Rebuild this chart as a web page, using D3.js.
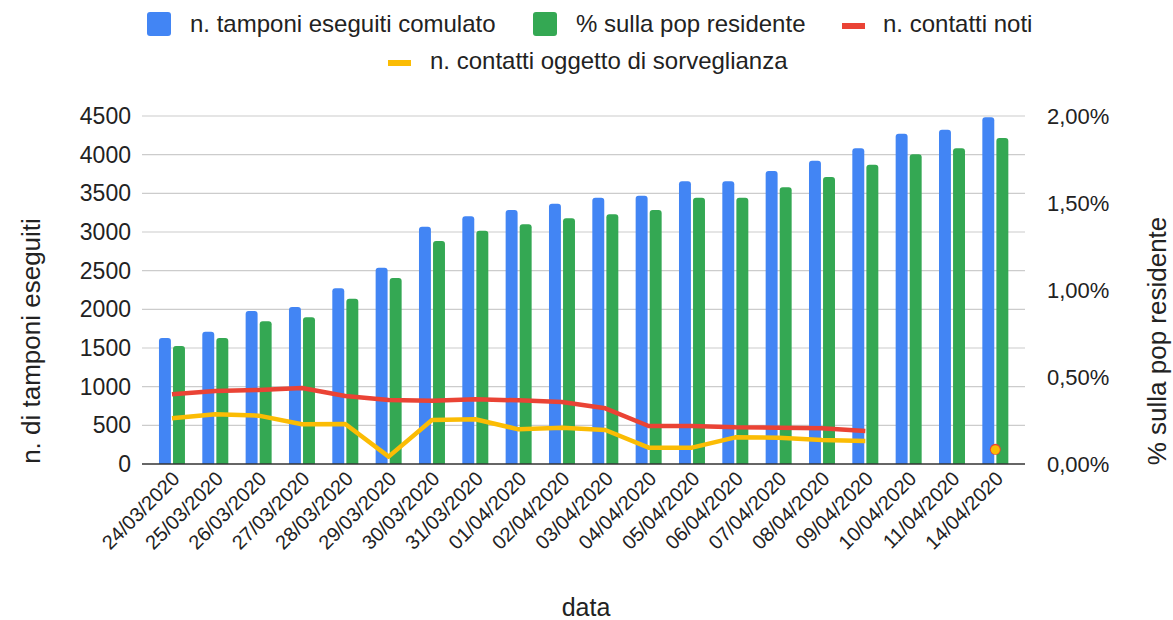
<!DOCTYPE html>
<html><head><meta charset="utf-8">
<script src="https://cdn.jsdelivr.net/npm/d3@7"></script>
<style>
body{margin:0;background:#fff;}
svg{display:block;font-family:"Liberation Sans",Arial,sans-serif;}
</style></head>
<body><svg id="c" width="1173" height="620"></svg>
<script>
const dates = ["24/03/2020","25/03/2020","26/03/2020","27/03/2020","28/03/2020","29/03/2020","30/03/2020","31/03/2020","01/04/2020","02/04/2020","03/04/2020","04/04/2020","05/04/2020","06/04/2020","07/04/2020","08/04/2020","09/04/2020","10/04/2020","11/04/2020","14/04/2020"];
const tamponi = [1629,1711,1978,2030,2272,2539,3069,3203,3285,3366,3444,3470,3656,3656,3789,3922,4082,4272,4323,4483];
const pctPop = [0.678,0.724,0.820,0.843,0.950,1.069,1.282,1.341,1.378,1.412,1.435,1.460,1.530,1.530,1.590,1.649,1.720,1.780,1.814,1.874];
const contattiNoti = [901,944,957,983,879,828,819,836,823,802,720,491,491,474,470,461,427,null,null,190];
const contattiSorv = [591,642,625,513,517,95,569,578,448,470,440,211,211,345,340,310,297,null,null,190];
const leftTicks = [0,500,1000,1500,2000,2500,3000,3500,4000,4500];
const rightTicks = [0,0.5,1,1.5,2];
const seriesNames = ["n. tamponi eseguiti comulato","% sulla pop residente","n. contatti noti","n. contatti oggetto di sorveglianza"];
const colors = ["#4285F4","#34A853","#EA4335","#FBBC04"];

const svg = d3.select("#c");
const L = 142, R = 1025, T = 116, B = 464;
const x = d3.scaleBand().domain(dates).range([150.3, 1017]);
const sub = d3.scaleBand().domain(["a","b"]).range([-13,13]).paddingInner(0.15);
const yL = d3.scaleLinear().domain([0,4500]).range([B,T]);
const yR = d3.scaleLinear().domain([0,2]).range([B,T]);
const cx = d => x(d) + x.bandwidth()/2;

// gridlines
svg.append("g").selectAll("line").data(leftTicks.slice(1)).join("line")
  .attr("x1",L).attr("x2",R).attr("y1",d=>yL(d)).attr("y2",d=>yL(d))
  .attr("stroke","#cccccc").attr("stroke-width",1.2);

// left axis labels
const axL = svg.append("g").attr("transform",`translate(${L},0)`)
  .call(d3.axisLeft(yL).tickValues(leftTicks).tickSize(0).tickPadding(11).tickFormat(d3.format("d")));
axL.select(".domain").remove();
axL.selectAll("text").attr("font-size",23).attr("fill","#222").attr("font-family","Liberation Sans, Arial");
// right axis labels
const fmtPct = d => d3.format(".2f")(d).replace(".",",") + "%";
const axR = svg.append("g").attr("transform",`translate(${R},0)`)
  .call(d3.axisRight(yR).tickValues(rightTicks).tickSize(0).tickPadding(22).tickFormat(fmtPct));
axR.select(".domain").remove();
axR.selectAll("text").attr("font-size",22).attr("fill","#222").attr("font-family","Liberation Sans, Arial");

function topRounded(x0,y0,w,h,r){
  r = Math.min(r,h,w/2);
  return `M${x0},${y0+h}V${y0+r}Q${x0},${y0} ${x0+r},${y0}H${x0+w-r}Q${x0+w},${y0} ${x0+w},${y0+r}V${y0+h}Z`;
}
// bars
svg.append("g").selectAll("path").data(dates).join("path")
  .attr("d",(d,i)=>topRounded(cx(d)+sub("a"), yL(tamponi[i]), sub.bandwidth(), B-yL(tamponi[i]), 3))
  .attr("fill",colors[0]);
svg.append("g").selectAll("path").data(dates).join("path")
  .attr("d",(d,i)=>topRounded(cx(d)+sub("b"), yR(pctPop[i]), sub.bandwidth(), B-yR(pctPop[i]), 3))
  .attr("fill",colors[1]);

// baseline
svg.append("line").attr("x1",L).attr("x2",R).attr("y1",B).attr("y2",B).attr("stroke","#333").attr("stroke-width",1.5);

// lines
const line = d3.line().defined(d=>d.v!=null).x(d=>cx(d.d)).y(d=>yL(d.v));
[[contattiNoti,colors[2]],[contattiSorv,colors[3]]].forEach(([arr,col])=>{
  const pts = dates.map((d,i)=>({d,v:arr[i]}));
  svg.append("path").datum(pts.slice(0,17)).attr("d",line).attr("fill","none")
    .attr("stroke",col).attr("stroke-width",4.5).attr("stroke-linejoin","round").attr("stroke-linecap","butt");
});
// isolated points
const last = dates.length-1;
svg.append("circle").attr("cx",cx(dates[last])).attr("cy",yL(contattiNoti[last])).attr("r",5.5).attr("fill",colors[2]);
svg.append("circle").attr("cx",cx(dates[last])).attr("cy",yL(contattiSorv[last])+0.5).attr("r",4.5).attr("fill",colors[3]);

// x labels
svg.append("g").selectAll("text").data(dates).join("text")
  .attr("transform",d=>`translate(${cx(d)+9},${B+16}) rotate(-45)`)
  .attr("text-anchor","end").attr("font-size",20).attr("fill","#222").text(d=>d);

// axis titles
svg.append("text").attr("x",586).attr("y",616).attr("text-anchor","middle").attr("font-size",25).attr("fill","#222").text("data");
svg.append("text").attr("transform","translate(40,341) rotate(-90)").attr("text-anchor","middle").attr("font-size",26).attr("fill","#222").text("n. di tamponi eseguiti");
svg.append("text").attr("transform","translate(1166,341) rotate(-90)").attr("text-anchor","middle").attr("font-size",26).attr("fill","#222").text("% sulla pop residente");

// legend
const lg = svg.append("g").attr("font-size",24).attr("fill","#222");
const items = [
  {x:147,y:24,type:"rect",i:0,tx:190},{x:533,y:24,type:"rect",i:1,tx:576},{x:842,y:26,type:"dash",i:2,tx:883},{x:388,y:63,type:"dash",i:3,tx:430}
];
items.forEach(it=>{
  if(it.type==="rect"){
    lg.append("rect").attr("x",it.x).attr("y",it.y-12).attr("width",24).attr("height",24).attr("rx",3).attr("fill",colors[it.i]);
  } else {
    lg.append("rect").attr("x",it.x).attr("y",it.y-3).attr("width",23).attr("height",6).attr("fill",colors[it.i]);
  }
  lg.append("text").attr("x",it.tx).attr("y",(it.type==="rect"?it.y:it.y-2)+8).text(seriesNames[it.i]);
});
</script></body></html>
